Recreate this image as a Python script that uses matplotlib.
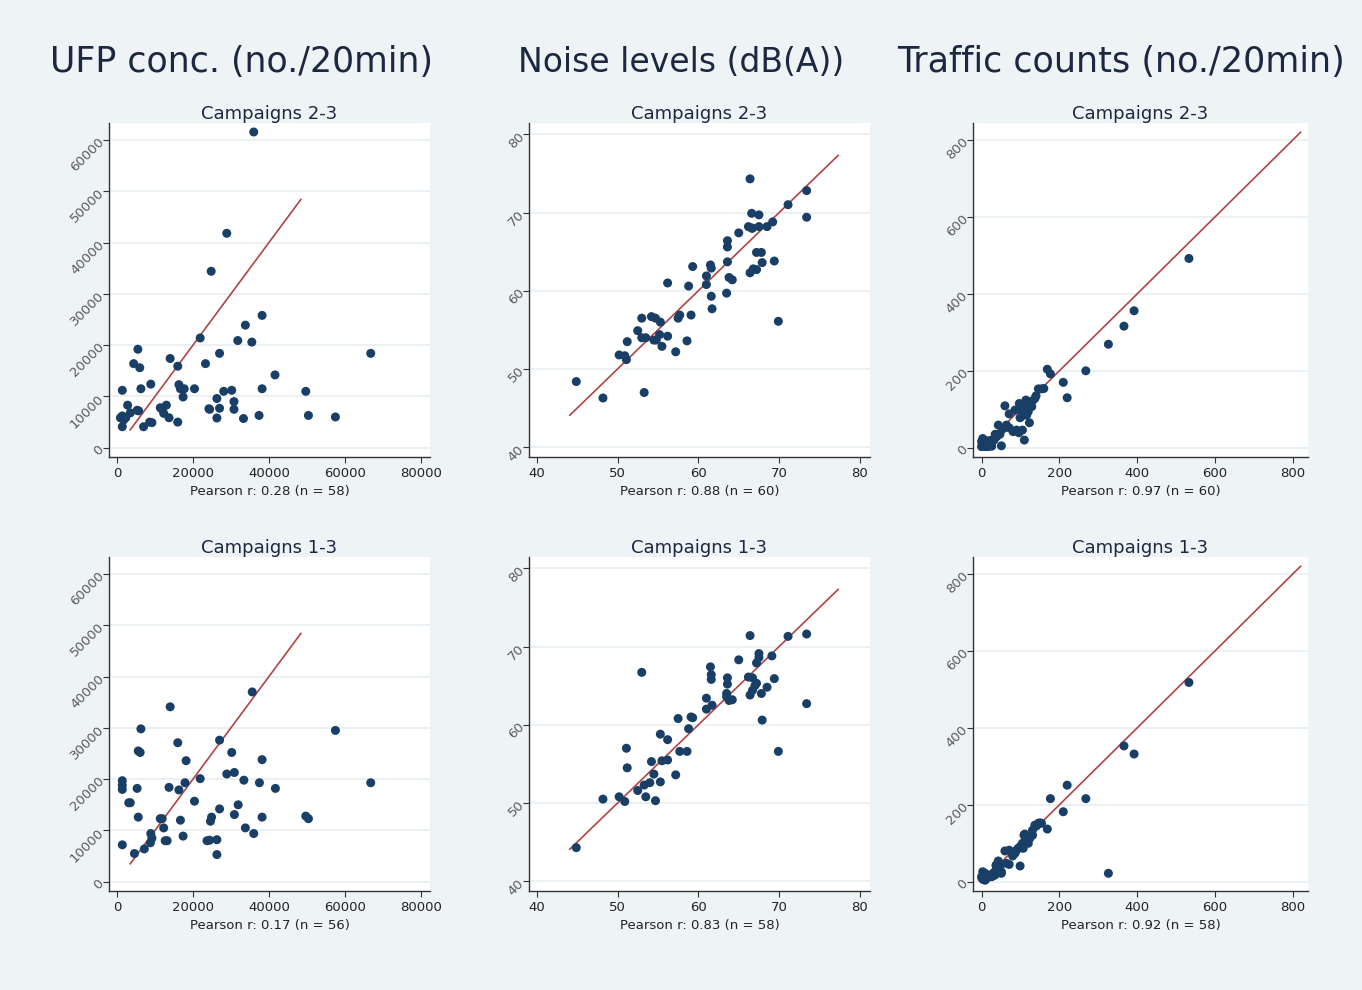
import matplotlib
matplotlib.use("Agg")
import matplotlib.pyplot as plt
import numpy as np

# ---------------- data ----------------
col_titles = ["UFP conc. (no./20min)", "Noise levels (dB(A))", "Traffic counts (no./20min)"]
row_titles = ["Campaigns 2-3", "Campaigns 1-3"]
pearson_labels = [["Pearson r: 0.28 (n = 58)", "Pearson r: 0.88 (n = 60)", "Pearson r: 0.97 (n = 60)"],
                  ["Pearson r: 0.17 (n = 56)", "Pearson r: 0.83 (n = 58)", "Pearson r: 0.92 (n = 58)"]]

ufp_23_x = [36000, 28900, 24800, 38200, 33800, 31800, 35500, 21900, 27000, 66800, 5500, 4400, 6000, 14000, 16000,
            23300, 41600, 1400, 6300, 8900, 16300, 16700, 17700, 17400, 20400, 28100, 30200, 38200, 49700, 26300,
            30800, 13000, 11900, 2800, 5300, 24200, 27000, 30800, 37400, 50400, 57500, 1400, 2300, 3500, 12300,
            13700, 26300, 33300, 16000, 7000, 9200, 1400, 1750, 11400, 5700, 24400, 8600, 900]
ufp_23_y = [61550, 41800, 34400, 25800, 23900, 20900, 20600, 21400, 18400, 18400, 19200, 16400, 15600, 17400, 15900,
            16400, 14200, 11200, 11500, 12400, 12300, 11500, 11500, 9900, 11500, 11000, 11200, 11500, 11000, 9600,
            9000, 8300, 7500, 8300, 7300, 7600, 7700, 7500, 6300, 6300, 6000, 6200, 5850, 6800, 6700,
            5850, 5800, 5700, 5000, 4100, 4900, 4100, 5400, 7800, 7200, 7500, 5000, 5850]

ufp_13_x = [35600, 14000, 6300, 57500, 27000, 16000, 5600, 6100, 30200, 18200, 38200, 28900, 30900, 21900, 33400,
            17900, 37500, 66800, 1400, 1400, 1400, 5300, 13700, 16300, 41700, 20400, 3100, 3500, 31900, 27000,
            30900, 5600, 11400, 11900, 16700, 24900, 24600, 38200, 49700, 50400, 12300, 33800, 36000, 8900, 9200,
            17400, 8800, 12700, 23700, 24400, 26300, 1400, 7200, 4600, 26300, 13200]
ufp_13_y = [37000, 34100, 29800, 29500, 27600, 27100, 25500, 25200, 25200, 23600, 23800, 21000, 21300, 20100, 19800,
            19300, 19300, 19300, 19700, 18800, 18000, 18200, 18400, 17900, 18200, 15700, 15400, 15400, 15000, 14200,
            13100, 12600, 12300, 12300, 12000, 12600, 11800, 12600, 12800, 12300, 10500, 10500, 9400, 9400, 8500,
            8900, 7600, 8000, 8000, 8100, 8200, 7200, 6400, 5500, 5300, 8000]

noise_23_x = [44.9, 48.2, 53.3, 50.2, 50.9, 51.1, 51.2, 52.5, 53.0, 53.5, 54.2, 54.7, 54.5, 55.3, 55.2, 55.5, 56.2,
              56.2, 57.2, 57.5, 57.7, 58.6, 58.8, 59.1, 59.3, 61.0, 61.0, 61.5, 61.6, 61.6, 61.7, 63.5, 63.6, 63.6,
              63.6, 63.8, 64.2, 65.0, 66.4, 66.6, 66.2, 66.7, 67.5, 67.5, 66.4, 66.8, 67.2, 67.2, 67.8, 67.9, 68.5,
              69.2, 69.4, 69.9, 71.1, 73.4, 73.4, 54.8, 66.6, 53.0]
noise_23_y = [48.4, 46.3, 47.0, 51.8, 51.7, 51.2, 53.5, 54.9, 56.5, 54.0, 56.7, 56.5, 53.7, 56.0, 54.4, 52.9, 61.0,
              54.2, 52.2, 56.5, 56.9, 53.6, 60.6, 56.9, 63.1, 61.9, 60.8, 63.3, 62.9, 59.3, 57.7, 59.7, 63.7, 66.4,
              65.6, 61.7, 61.4, 67.4, 74.3, 69.9, 68.2, 68.0, 69.7, 68.2, 62.3, 62.8, 62.7, 64.9, 64.9, 63.6, 68.2,
              68.8, 63.8, 56.1, 71.0, 72.8, 69.4, 53.7, 68.0, 54.0]

noise_13_x = [44.9, 48.2, 50.2, 50.9, 51.1, 51.2, 52.5, 53.0, 53.3, 53.5, 54.0, 54.2, 54.5, 54.7, 55.3, 55.3, 55.5,
              56.2, 56.2, 57.2, 57.5, 57.7, 58.6, 58.8, 59.1, 59.3, 61.0, 61.0, 61.5, 61.6, 61.6, 61.7, 63.6, 63.6,
              63.5, 63.5, 63.8, 64.2, 65.0, 66.4, 66.2, 66.7, 66.4, 66.7, 67.0, 67.2, 67.2, 67.5, 67.5, 67.8, 67.9,
              68.5, 69.1, 69.4, 69.9, 71.1, 73.4, 73.4]
noise_13_y = [44.3, 50.5, 50.8, 50.2, 57.0, 54.5, 51.6, 66.7, 52.3, 50.8, 52.6, 55.3, 53.7, 50.3, 58.8, 52.7, 55.4,
              55.5, 58.1, 53.6, 60.8, 56.6, 56.6, 59.5, 61.0, 60.9, 63.4, 62.0, 67.4, 66.4, 65.8, 62.5, 66.0, 65.2,
              64.0, 63.6, 63.1, 63.2, 68.3, 71.4, 66.1, 66.0, 63.8, 64.4, 65.0, 65.3, 67.9, 69.1, 68.6, 64.0, 60.6,
              64.8, 68.8, 65.9, 56.6, 71.3, 71.6, 62.7]

traffic_23_x = [533, 392, 366, 326, 268, 210, 220, 169, 177, 154, 146, 140, 131, 129, 116, 97, 105, 116, 99, 123,
                60, 71, 71, 81, 96, 105, 110, 43, 47, 35, 51, 32, 21, 13, 4, 0, 9, 17, 0, 26,
                120, 107, 90, 137, 6, 13, 3, 39, 86, 114, 56, 64, 160, 2, 17, 26, 120, 103, 47, 11]
traffic_23_y = [492, 356, 316, 269, 200, 170, 130, 204, 192, 153, 153, 135, 122, 107, 115, 115, 96, 85, 78, 65,
                109, 88, 52, 42, 39, 46, 20, 59, 35, 35, 5, 20, 11, 16, 11, 3, 3, 3, 16, 20,
                114, 102, 46, 128, 20, 7, 24, 29, 98, 124, 50, 59, 154, 7, 18, 4, 94, 82, 37, 11]

traffic_13_x = [533, 366, 392, 220, 177, 268, 210, 326, 169, 154, 146, 137, 131, 131, 111, 116, 105, 99, 120, 99,
                71, 60, 71, 80, 90, 43, 37, 51, 43, 30, 21, 9, 3, 0, 4, 13, 26, 17, 1, 107,
                124, 86, 64, 34, 94, 103, 114, 47, 141, 4, 13, 34, 109, 81, 9, 39, 51, 150]
traffic_13_y = [518, 353, 332, 251, 216, 216, 182, 22, 137, 152, 152, 147, 134, 121, 124, 108, 100, 91, 100, 41,
                45, 80, 82, 67, 82, 54, 43, 26, 30, 22, 17, 22, 26, 13, 6, 9, 13, 17, 9, 87,
                113, 74, 48, 26, 87, 95, 104, 39, 145, 17, 13, 17, 121, 75, 4, 35, 22, 153]

# identity reference line ranges (x = y)
ref_ranges = [(3500, 48400), (44.1, 77.3), (0, 820)]

x_ticks = [[0, 20000, 40000, 60000, 80000], [40, 50, 60, 70, 80], [0, 200, 400, 600, 800]]
y_ticks = [[0, 10000, 20000, 30000, 40000, 50000, 60000], [40, 50, 60, 70, 80], [0, 200, 400, 600, 800]]
x_lims = [(-2100, 82400), (39.05, 81.24), (-22, 839)]
y_lims = [(-1800, 63300), (38.76, 81.44), (-24, 844)]

data = [[(ufp_23_x, ufp_23_y), (noise_23_x, noise_23_y), (traffic_23_x, traffic_23_y)],
        [(ufp_13_x, ufp_13_y), (noise_13_x, noise_13_y), (traffic_13_x, traffic_13_y)]]

# ---------------- style ----------------
W, H = 1362, 990
bg = "#EEF3F5"
navy = "#1A3F66"
red = "#B04444"
grid_c = "#E8EFF1"
title_c = "#1C2740"

fig = plt.figure(figsize=(W / 100, H / 100), dpi=100, facecolor=bg)
plt.rcParams['font.family'] = ['DejaVu Sans']

cols_px = [(109, 430), (529, 870), (973, 1308)]
rows_px = [(123, 457), (557, 891)]
col_centers = [242, 681, 1121]
col_title_sizes = [25, 23.8, 25.2]

for c, t in enumerate(col_titles):
    fig.text(col_centers[c] / W, 1 - 62 / H, t, ha="center", va="center",
             fontsize=col_title_sizes[c], color=title_c)

for r in range(2):
    for c in range(3):
        l, rr = cols_px[c]
        t, b = rows_px[r]
        ax = fig.add_axes([l / W, 1 - b / H, (rr - l) / W, (b - t) / H])
        ax.set_facecolor("white")
        xs, ys = data[r][c]
        ax.set_xlim(*x_lims[c])
        ax.set_ylim(*y_lims[c])
        ax.set_yticks(y_ticks[c])
        ax.set_xticks(x_ticks[c])
        ax.grid(axis="y", color=grid_c, linewidth=1.2, zorder=0)
        ax.set_axisbelow(True)
        lo, hi = ref_ranges[c]
        ax.plot([lo, hi], [lo, hi], color=red, linewidth=1.2, zorder=2)
        ax.scatter(xs, ys, s=42, color=navy, edgecolors="none", zorder=3)
        for s in ["top", "right"]:
            ax.spines[s].set_visible(False)
        for s in ["left", "bottom"]:
            ax.spines[s].set_color("#333333")
            ax.spines[s].set_linewidth(1.0)
        ax.tick_params(axis="x", direction="out", length=4, width=0.8, colors="#333333",
                       labelsize=9.5, labelcolor="#222222", pad=3)
        ax.tick_params(axis="y", direction="out", length=4, width=0.8, colors="#333333",
                       labelsize=9.5, labelcolor="#5a5a5a", pad=1)
        for lab in ax.get_yticklabels():
            lab.set_rotation(45)
            lab.set_ha("right")
            lab.set_va("center")
            lab.set_rotation_mode("anchor")
        ax.set_title(row_titles[r], fontsize=13, color=title_c, pad=3)
        ax.set_xlabel(pearson_labels[r][c], fontsize=9.5, color="#222222", labelpad=4)

fig.savefig("out.png", dpi=100, facecolor=bg)
